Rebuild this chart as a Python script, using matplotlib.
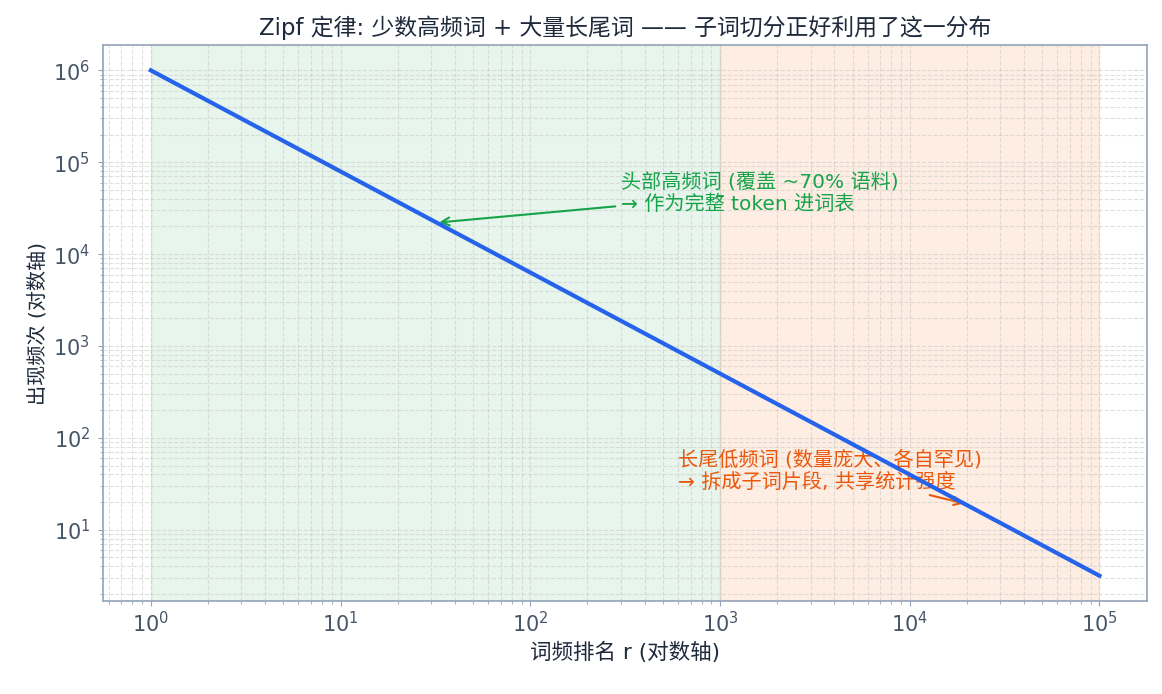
import matplotlib
matplotlib.use("Agg")
import matplotlib.pyplot as plt

plt.rcParams['font.family'] = ['DejaVu Sans', 'Noto Sans CJK SC']
plt.rcParams['axes.unicode_minus'] = False

# Zipf curve (rank -> frequency)
ranks = [1, 10, 100, 1000, 10000, 100000]
freqs = [1.0e6, 7.94e4, 6.31e3, 501, 39.8, 3.16]

x_ticks = [1, 10, 100, 1000, 10000, 100000]
y_ticks = [10, 100, 1000, 10000, 100000, 1000000]

head_span = (1, 1e3)
tail_span = (1e3, 1e5)

head_target = (32, 2.2e4)
head_text_pos = (3e2, 4.6e4)
tail_target = (2e4, 19)
tail_text_pos = (6e2, 44)

text_dark = '#1e293b'
tick_col = '#475569'
spine_col = '#94a3b8'

fig, ax = plt.subplots(figsize=(11.62, 6.94), dpi=100)
fig.subplots_adjust(left=0.089, right=0.987, top=0.935, bottom=0.134)

ax.axvspan(*head_span, color='#16a34a', alpha=0.1, zorder=0)
ax.axvspan(*tail_span, color='#f97316', alpha=0.12, zorder=0)

ax.plot(ranks, freqs, color='#2563eb', linewidth=3, zorder=5)
ax.set_xscale('log')
ax.set_yscale('log')
ax.set_xticks(x_ticks)
ax.set_yticks(y_ticks)

ax.grid(True, which='both', linestyle='--', color='#c8c8c8', alpha=0.55, linewidth=0.8)
ax.set_axisbelow(True)

for s in ax.spines.values():
    s.set_color(spine_col)
    s.set_linewidth(1.2)
ax.tick_params(which='both', colors=spine_col, labelcolor=tick_col, labelsize=15)
ax.tick_params(axis='y', which='major', pad=6)

ax.set_title('Zipf 定律: 少数高频词 + 大量长尾词 —— 子词切分正好利用了这一分布',
             fontsize=16.5, color=text_dark, pad=7)
ax.set_xlabel('词频排名 r (对数轴)', fontsize=15.5, color=text_dark)
ax.set_ylabel('出现频次 (对数轴)', fontsize=14.5, color=text_dark)

ax.annotate('头部高频词 (覆盖 ~70% 语料)\n→ 作为完整 token 进词表',
            xy=head_target, xytext=head_text_pos, ha='left', va='center',
            fontsize=14.5, color='#16a34a', linespacing=1.2,
            arrowprops=dict(arrowstyle='->', color='#16a34a', lw=1.5), zorder=3)
ax.annotate('长尾低频词 (数量庞大、各自罕见)\n→ 拆成子词片段, 共享统计强度',
            xy=tail_target, xytext=tail_text_pos, ha='left', va='center',
            fontsize=14.5, color='#ea580c', linespacing=1.2,
            arrowprops=dict(arrowstyle='->', color='#ea580c', lw=1.5), zorder=3)

fig.savefig('out.png', dpi=100)
